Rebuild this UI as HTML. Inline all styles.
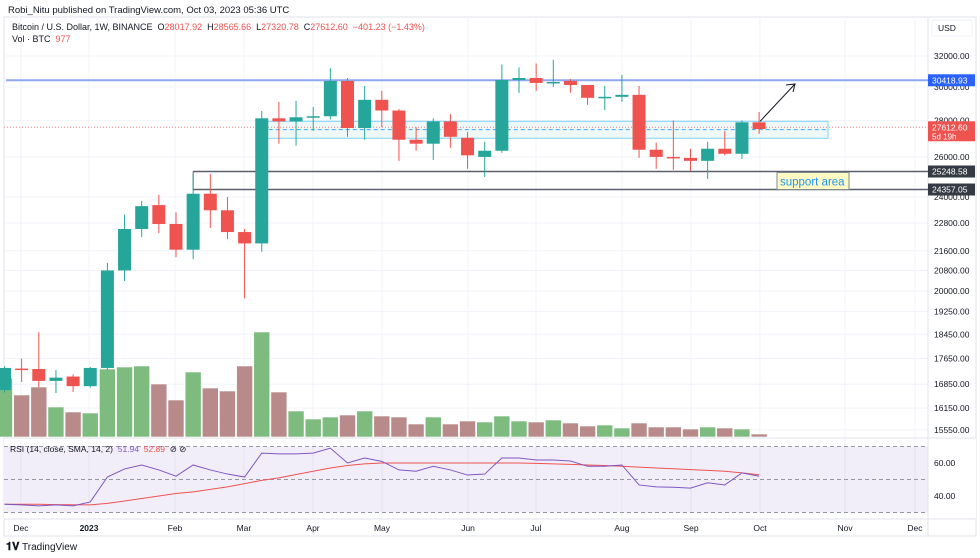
<!DOCTYPE html>
<html><head><meta charset="utf-8">
<style>
body{margin:0;background:#fff;font-family:"Liberation Sans",sans-serif;}
#wrap{position:relative;width:980px;height:558px;overflow:hidden;background:#fff;}
.t{position:absolute;white-space:nowrap;}
</style></head>
<body>
<div id="wrap">
<div class="t" style="left:8px;top:5px;font-size:9.5px;color:#131722;">Robi_Nitu published on TradingView.com, Oct 03, 2023 05:36 UTC</div>
<svg id="chart" width="980" height="558" style="position:absolute;left:0;top:0"></svg>
<div class="t" style="left:12px;top:22px;font-size:9px;color:#131722;">Bitcoin / U.S. Dollar, 1W, BINANCE&nbsp; O<span style="color:#ef5350">28017.92</span>&nbsp; H<span style="color:#ef5350">28565.66</span>&nbsp; L<span style="color:#ef5350">27320.78</span>&nbsp; C<span style="color:#ef5350">27612.60</span>&nbsp; <span style="color:#ef5350">−401.23 (−1.43%)</span></div>
<div class="t" style="left:12px;top:34px;font-size:9px;color:#131722;">Vol · BTC&nbsp; <span style="color:#ef5350">977</span></div>
<div class="t" style="left:10px;top:444px;font-size:8.5px;color:#131722;">RSI (14, close, SMA, 14, 2)&nbsp; <span style="color:#7e57c2">51.94</span>&nbsp; <span style="color:#ef5350">52.89</span>&nbsp; ⊘ ⊘</div>
<div class="t" style="left:6px;top:541px;font-size:10px;color:#131722;"><b style="font-size:11px">𝟏𝐕</b> TradingView</div>
</div>
<script>
const months=["Dec","2023","Feb","Mar","Apr","May","Jun","Jul","Aug","Sep","Oct","Nov","Dec"];
const monthIdx=[0.96,4.93,9.94,13.96,17.99,22.01,27.03,30.99,36.0,40.03,44.05,49.01,53.09];
const priceTicks=[32000,30000,28000,26000,24000,22800,21600,20800,20000,19250,18450,17650,16850,16150,15550,14950];
const opens=[16675,17330,17317,16950,17083,16792,17350,20800,22534,23616,22756,21646,24154,23376,22400,21911,28121,27946,28182,28242,30375,27568,29212,28576,26920,26704,27946,27028,26000,26326,30438,30563,30250,30375,30121,29330,29394,29515,26380,26000,25949,25795,26434,26164,27892];
const highs=[17400,17650,18519,17283,17150,17383,21105,23184,23808,24102,23280,25128,25128,24000,22534,28546,29091,29152,28788,31188,30563,30063,29758,28667,27622,28121,28364,27352,26812,31438,31250,31500,31750,30500,30121,30063,30750,30063,26758,28000,26434,26812,27406,28000,28485];
const lows=[16600,16917,16762,16587,16616,16750,17300,20381,22178,22356,21333,21257,22578,22089,19727,21562,26704,26596,27406,28060,27082,26920,27622,25795,26326,25846,26488,25384,24974,26218,29636,29758,30000,29636,28909,28606,29091,25949,25384,25333,25282,24872,26082,25897,27244];
const closes=[17350,17300,16950,17050,16792,17350,20800,22534,23568,22756,21646,24154,23376,22400,21911,28121,27946,28182,28242,30375,27568,29212,28576,26920,26704,27946,27082,26082,26326,30438,30563,30250,30313,30121,29333,29394,29515,26380,26000,25949,25795,26434,26164,27892,27514];
const volumes=[59,42,50,30,25,24,68,70,71,53,37,65,49,46,71,105,45,26,18,20,22,26,21,20,13,20,13,16,15,21,16,15,17,14,11,12,9,14,10,10,8,10,9,8,3];
const rsi=[35,34.6,34,34.6,34,36.4,51.5,56.4,58.8,55.8,52,58.8,55.8,53.3,51.5,66,65.5,65.5,66,69,60,63,61,55.8,55,58,55.8,52.7,53.3,63,63,61.8,61.8,61.2,58,58,58.8,46.7,45.5,45.3,44.8,48,46.7,54,51.94];
const rsiSma=[35,35,35,34.8,34.7,34.6,35.5,37,38.5,40,41.5,42.5,44,45.5,47.5,49.5,51,53,55,57,58.5,59.5,60,60,60,60,60,60,60,60,60,59.8,59.5,59.2,58.8,58.5,58,57.5,57,56.5,56,55.5,55,54,52.89];
const lines={resistance:30418.93,last:27612.60,sup1:25248.58,sup2:24357.05,boxTop:27950,boxBot:27000,boxMid:27480};

const NS="http://www.w3.org/2000/svg";
const svg=document.getElementById('chart');
const PW=928;
function xS(i){return 4.5+i*17.15;}
function yP(p){return 56+410*Math.log(27500/(p-4500));}
function yV(v){return 437-v;}
function yR(v){return 479.5-(v-50)*1.65;}
function mk(tag,a,parent){const e=document.createElementNS(NS,tag);for(const k in a)e.setAttribute(k,a[k]);(parent||svg).appendChild(e);return e;}

let e;
const defs=mk('defs',{});
const cp=mk('clipPath',{id:'axclip'},defs);
mk('rect',{x:928,y:17,width:52,height:420},cp);

e=mk('rect',{x:4,y:17,width:972,height:519,fill:'none',stroke:'#e0e3eb','stroke-width':1});

months.forEach((m,k)=>{
  e=mk('line',{x1:xS(monthIdx[k]),x2:xS(monthIdx[k]),y1:17,y2:519,stroke:'#f0f3fa'});
  
});
priceTicks.forEach(p=>{
  e=mk('line',{x1:4,x2:PW,y1:yP(p),y2:yP(p),stroke:'#f0f3fa'});
  
});
e=mk('rect',{x:4,y:438,width:972,height:81,fill:'#fff'});

months.forEach((m,k)=>{
  e=mk('line',{x1:xS(monthIdx[k]),x2:xS(monthIdx[k]),y1:438,y2:519,stroke:'#f0f3fa'});
  
});
e=mk('line',{x1:4,x2:976,y1:438,y2:438,stroke:'#e0e3eb'});

e=mk('rect',{x:4,y:yR(70),width:PW-4,height:yR(30)-yR(70),fill:'#7e57c2','fill-opacity':0.1});

[70,50,30].forEach(v=>{
  e=mk('line',{x1:4,x2:PW,y1:yR(v),y2:yR(v),stroke:'#9598a1','stroke-dasharray':'4,3'});
  
});
e=mk('line',{x1:4,x2:976,y1:519,y2:519,stroke:'#e0e3eb'});

e=mk('line',{x1:PW,x2:PW,y1:17,y2:536,stroke:'#e0e3eb'});


volumes.forEach((v,i)=>{
  const up=closes[i]>=opens[i];
  e=mk('rect',{x:xS(i)-8,y:yV(v),width:16,height:v,fill:up?'#7dbb7f':'#b98a8a',stroke:'#fff','stroke-width':0.6});
  
});

e=mk('rect',{x:xS(15),y:yP(lines.boxTop),width:828-xS(15),height:yP(lines.boxBot)-yP(lines.boxTop),fill:'#e0f2f1','fill-opacity':0.5,stroke:'#81d4fa','stroke-width':1});

e=mk('line',{x1:xS(15),x2:828,y1:yP(lines.boxMid),y2:yP(lines.boxMid),stroke:'#42a5f5','stroke-dasharray':'4,3'});

e=mk('line',{x1:4,x2:PW,y1:yP(lines.last),y2:yP(lines.last),stroke:'#ef5350','stroke-dasharray':'1,2','stroke-opacity':0.7});

e=mk('line',{x1:6,x2:PW,y1:yP(lines.resistance),y2:yP(lines.resistance),stroke:'#8fa8f0','stroke-width':2});

e=mk('line',{x1:xS(11),x2:PW,y1:yP(lines.sup1),y2:yP(lines.sup1),stroke:'#5d606b','stroke-width':1.5});

e=mk('line',{x1:xS(11),x2:PW,y1:yP(lines.sup2),y2:yP(lines.sup2),stroke:'#5d606b','stroke-width':1.5});

e=mk('line',{x1:xS(11),x2:xS(11),y1:yP(lines.sup1),y2:yP(lines.sup2),stroke:'#5d606b','stroke-width':1});


opens.forEach((o,i)=>{
  const c=closes[i],up=c>=o,col=up?'#26a69a':'#ef5350',x=xS(i);
  const g=mk('g',{});
  
  mk('line',{x1:x,x2:x,y1:yP(highs[i]),y2:yP(lows[i]),stroke:col,'stroke-width':1},g);
  const t=yP(Math.max(o,c)),b=yP(Math.min(o,c));
  mk('rect',{x:x-6.5,y:t,width:13,height:Math.max(1.5,b-t),fill:col},g);
});

e=mk('line',{x1:xS(44)+1,y1:yP(27950),x2:795,y2:84,stroke:'#131722','stroke-width':1});

e=mk('path',{d:'M786,85 L795,84 L793,92',fill:'none',stroke:'#131722','stroke-width':1});

e=mk('rect',{x:777,y:yP(lines.sup1)+1,width:72,height:yP(lines.sup2)-yP(lines.sup1)-1,fill:'#fff9c4',stroke:'#7b8a8e'});

e=mk('text',{x:780,y:yP(lines.sup2)-4,'font-size':11.5,fill:'#2196f3','font-family':'Liberation Sans, sans-serif'});
e.textContent='support area';


function poly(arr,col,name){
  const pts=arr.map((v,i)=>xS(i)+','+yR(v)).join(' ');
  e=mk('polyline',{points:pts,fill:'none',stroke:col,'stroke-width':1});
  
}
poly(rsiSma,'#ef5350','rsi-sma-line');
poly(rsi,'#7e57c2','rsi-line');

e=mk('rect',{x:932,y:20,width:40,height:16,fill:'#fff',stroke:'#f0f3fa',rx:2});

e=mk('text',{x:938,y:31,'font-size':8.5,fill:'#131722'});e.textContent='USD';

const axg=mk('g',{'clip-path':'url(#axclip)'});

priceTicks.forEach(p=>{
  e=mk('text',{x:934,y:yP(p)+3,'font-size':8.5,fill:'#131722'},axg);
  e.textContent=p.toFixed(2);
  
});
[60,40].forEach(v=>{
  e=mk('text',{x:934,y:yR(v)+3,'font-size':8.5,fill:'#131722'});
  e.textContent=v.toFixed(2);
  
});
function tag(p,col,name,h){
  const y=yP(p);
  e=mk('rect',{x:928,y:y-6,width:47,height:h||12,fill:col});
  
  e=mk('text',{x:932,y:y+3,'font-size':8.5,fill:'#fff'});e.textContent=p.toFixed(2);
  
}
tag(lines.sup1,'#363a45','support-upper-tag');
tag(lines.sup2,'#363a45','support-lower-tag');
tag(lines.resistance,'#2962ff','resistance-tag');
tag(lines.last,'#ef5350','last-price-tag',20);
e=mk('text',{x:932,y:yP(lines.last)+12,'font-size':8,fill:'#fff'});e.textContent='5d 19h';


months.forEach((m,k)=>{
  e=mk('text',{x:xS(monthIdx[k]),y:531,'font-size':8.5,fill:'#131722','text-anchor':'middle','font-weight':m==='2023'?'bold':'normal'});
  e.textContent=m;
  
});
</script>
</body></html>
